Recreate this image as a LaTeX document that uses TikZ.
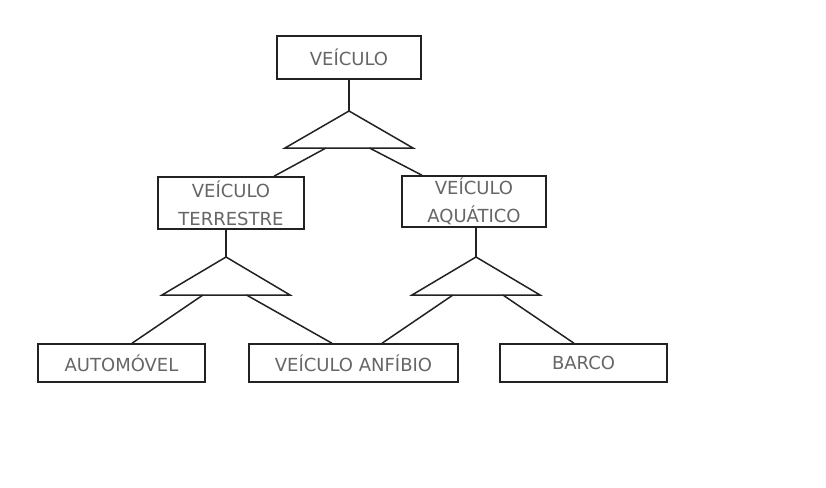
\documentclass[tikz,border=0pt]{standalone}
\usepackage{fontspec}
\setmainfont{DejaVu Sans}
\usetikzlibrary{calc}
\definecolor{txt}{HTML}{666666}
\definecolor{ln}{HTML}{222222}
\tikzset{
  box/.style={draw=ln, line width=1.5pt, rectangle, inner sep=0pt, text=txt,
    font=\fontsize{18}{28}\selectfont, align=center},
  link/.style={draw=ln, line width=1.5pt},
  tri/.style={draw=ln, line width=1.5pt, line join=miter}
}
\begin{document}
\begin{tikzpicture}[x=1pt,y=-1pt]
\useasboundingbox[fill=white] (0,0) rectangle (826,487);
% boxes
\node[box, minimum width=144pt, minimum height=43pt] (veic) at (349,57.5) {VEÍCULO};
\node[box, minimum width=146pt, minimum height=52pt] (terr) at (231,203) {VEÍCULO\\TERRESTRE};
\node[box, minimum width=144pt, minimum height=51pt] (aqua) at (474,201.5) {VEÍCULO\\AQUÁTICO};
\node[box, minimum width=167pt, minimum height=38pt] (auto) at (121.5,363) {AUTOMÓVEL};
\node[box, minimum width=209pt, minimum height=38pt] (anfi) at (353.5,363) {VEÍCULO ANFÍBIO};
\node[box, minimum width=167pt, minimum height=38pt] (barco) at (583.5,363) {BARCO};
% triangles
\coordinate (t1a) at (349,111); \coordinate (t1l) at (285,148); \coordinate (t1r) at (413,148);
\coordinate (t2a) at (226,257); \coordinate (t2l) at (162,295); \coordinate (t2r) at (290,295);
\coordinate (t3a) at (476,257); \coordinate (t3l) at (412,295); \coordinate (t3r) at (540,295);
\draw[tri] (t1a) -- (t1l) -- (t1r) -- cycle;
\draw[tri] (t2a) -- (t2l) -- (t2r) -- cycle;
\draw[tri] (t3a) -- (t3l) -- (t3r) -- cycle;
% connectors
\draw[link] (veic.south) -- (t1a);
\draw[link] ($(t1l)!0.32!(t1r)$) -- ([xshift=43pt]terr.north);
\draw[link] ($(t1l)!0.66!(t1r)$) -- ([xshift=-52pt]aqua.north);
\draw[link] (terr.south -| t2a) -- (t2a);
\draw[link] (aqua.south -| t3a) -- (t3a);
\draw[link] ($(t2l)!0.32!(t2r)$) -- ([xshift=10.5pt]auto.north);
\draw[link] ($(t2l)!0.66!(t2r)$) -- ([xshift=-21.5pt]anfi.north);
\draw[link] ($(t3l)!0.32!(t3r)$) -- ([xshift=28.5pt]anfi.north);
\draw[link] ($(t3l)!0.71!(t3r)$) -- ([xshift=-9.5pt]barco.north);
\end{tikzpicture}
\end{document}
